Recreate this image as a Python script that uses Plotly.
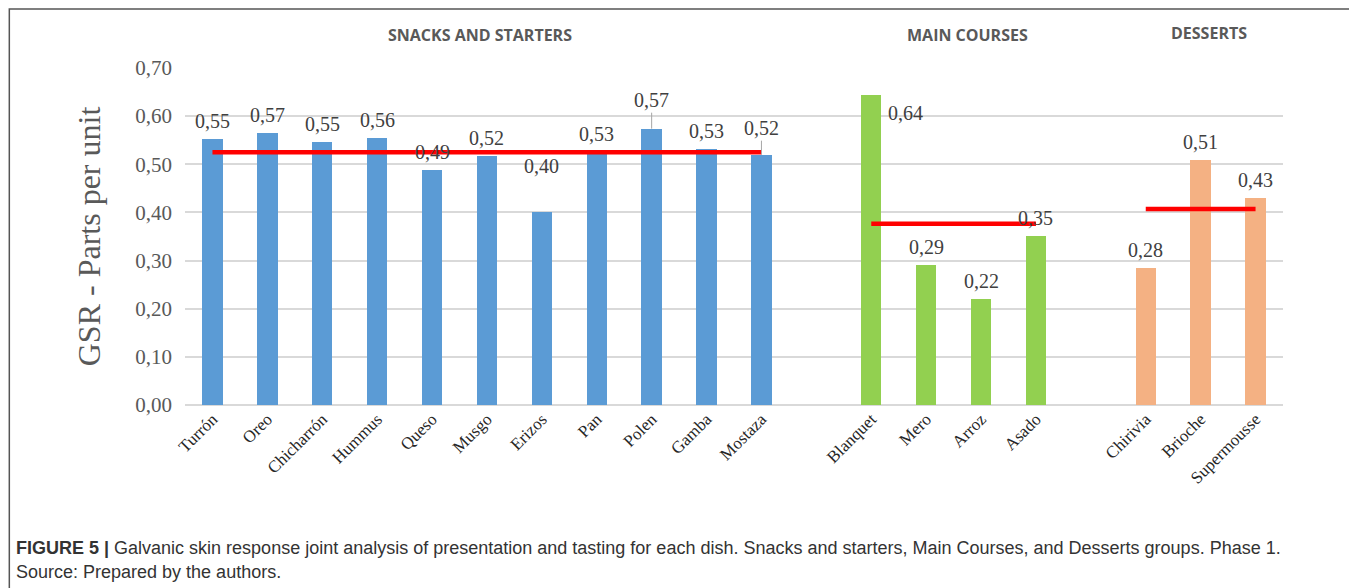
import plotly.graph_objects as go

# data
snacks = ["Turrón", "Oreo", "Chicharrón", "Hummus", "Queso", "Musgo", "Erizos",
          "Pan", "Polen", "Gamba", "Mostaza"]
snacks_gsr = [0.553, 0.566, 0.546, 0.555, 0.488, 0.517, 0.400, 0.526, 0.574, 0.532, 0.520]

mains = ["Blanquet", "Mero", "Arroz", "Asado"]
mains_gsr = [0.643, 0.291, 0.220, 0.351]

desserts = ["Chirivia", "Brioche", "Supermousse"]
desserts_gsr = [0.284, 0.508, 0.429]

group_titles = ["SNACKS AND STARTERS", "MAIN COURSES", "DESSERTS"]
y_ticks = [0.0, 0.1, 0.2, 0.3, 0.4, 0.5, 0.6, 0.7]

caption_bold = "FIGURE 5 |"
caption = ("Galvanic skin response joint analysis of presentation and tasting for each dish. "
           "Snacks and starters, Main Courses, and Desserts groups. Phase 1.")
source = "Source: Prepared by the authors."

# styling
colors = ["#5B9BD5", "#92D050", "#F4B183"]
serif = "Liberation Serif, Times New Roman, serif"
sans = "Liberation Sans, Arial, sans-serif"
label_color = "#404040"
# special label placements (name -> (xshift, yshift, leader line))
label_tweaks = {
    "Erizos": (0, 28, False),
    "Polen": (0, 16, True),
    "Mostaza": (0, 14, True),
    "Blanquet": (34, -36, False),
}
title_shift = [(-7, 46), (14, 46), (8, 48)]

groups = [(snacks, snacks_gsr), (mains, mains_gsr), (desserts, desserts_gsr)]

fig = go.Figure()

tickvals, ticktext = [], []
pos = 0
annotations = []
for gi, (names, vals) in enumerate(groups):
    xs = list(range(pos, pos + len(names)))
    tickvals += xs
    ticktext += names
    fig.add_trace(go.Bar(
        x=xs, y=vals, width=0.37,
        marker=dict(color=colors[gi], line=dict(width=0)),
        showlegend=False,
    ))
    # group mean line
    mean = sum(vals) / len(vals)
    fig.add_trace(go.Scatter(
        x=[xs[0], xs[-1]], y=[mean, mean], mode="lines",
        line=dict(color="#FF0000", width=4.5), showlegend=False,
    ))
    # group title
    annotations.append(dict(
        x=(xs[0] + xs[-1]) / 2, y=1.0, xref="x", yref="paper",
        xshift=title_shift[gi][0], yshift=title_shift[gi][1],
        text="<b>" + group_titles[gi] + "</b>", showarrow=False,
        font=dict(family="Open Sans, Liberation Sans, sans-serif", size=16, color="#595959"),
    ))
    # data labels
    for x, name, v in zip(xs, names, vals):
        dx, dy, leader = label_tweaks.get(name, (0, 0, False))
        txt = f"{v:.2f}".replace(".", ",")
        if leader:
            annotations.append(dict(
                x=x, y=v, xref="x", yref="y", text=txt, showarrow=True,
                arrowhead=0, arrowwidth=1, arrowcolor="#A6A6A6",
                ax=0, ay=-dy, yanchor="bottom",
                font=dict(family=serif, size=20, color=label_color),
            ))
        else:
            annotations.append(dict(
                x=x, y=v, xref="x", yref="y", text=txt, showarrow=False,
                yanchor="bottom", xshift=dx, yshift=5 + dy,
                font=dict(family=serif, size=20, color=label_color),
            ))
    pos += len(names) + 1

# caption
annotations.append(dict(
    x=-0.1557, y=-0.424, xref="paper", yref="paper", xanchor="left", yanchor="middle",
    text="<b>" + caption_bold + "</b> " + caption, showarrow=False, align="left",
    font=dict(family=sans, size=18, color="#333333"),
))
annotations.append(dict(
    x=-0.1557, y=-0.4955, xref="paper", yref="paper", xanchor="left", yanchor="middle",
    text=source, showarrow=False, align="left",
    font=dict(family=sans, size=18, color="#333333"),
))

fig.update_layout(
    width=1357, height=588,
    margin=dict(l=177, r=82, t=60, b=191),
    paper_bgcolor="white", plot_bgcolor="white",
    separators=",.",
    bargap=0,
    annotations=annotations,
    shapes=[dict(type="rect", xref="paper", yref="paper",
                 x0=-0.160, x1=1.061, y0=-0.62, y1=1.175,
                 line=dict(color="#555555", width=1.5))],
    xaxis=dict(
        range=[-0.5, pos - 1.5], tickvals=tickvals, ticktext=ticktext,
        tickangle=-45, showgrid=False, zeroline=False, showline=False,
        tickfont=dict(family=serif, size=17, color="#262626"), ticks="",
    ),
    yaxis=dict(
        range=[0, 0.7], tickvals=y_ticks, tickformat=".2f",
        gridcolor="#D9D9D9", gridwidth=1.5, zeroline=True, zerolinecolor="#D9D9D9",
        zerolinewidth=1.5, showline=False, ticks="", ticklabelstandoff=12,
        tickfont=dict(family=serif, size=21, color="#595959"),
        title=dict(text="GSR - Parts per unit", standoff=25,
                   font=dict(family=serif, size=32, color="#595959")),
    ),
)

fig.write_html("out.html")
